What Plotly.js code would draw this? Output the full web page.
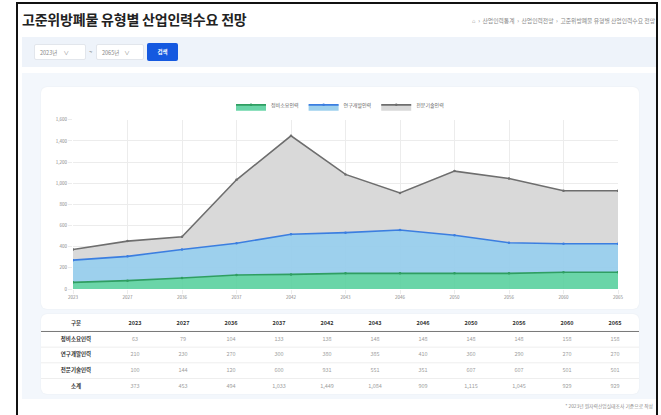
<!DOCTYPE html>
<html><head><meta charset="utf-8">
<script src="https://cdn.plot.ly/plotly-3.0.1.min.js"></script>
<style>
body{margin:0;width:661px;height:415px;background:#fff;overflow:hidden;font-family:"Noto Sans CJK KR","Noto Sans",sans-serif;position:relative}
.abs{position:absolute}
#frame{left:16px;top:2px;width:638px;height:420px;border:2px solid #111;border-bottom:none;box-sizing:content-box}
#title{left:22px;top:9px;font-size:14px;font-weight:700;color:#222;letter-spacing:-0.2px;white-space:nowrap}
#crumb{right:6px;top:16px;font-size:5.8px;color:#888;white-space:nowrap}
#filter{left:22px;top:37px;width:634px;height:30px;background:#eef3fa}
.sel{top:44px;height:16px;background:#fff;border:1px solid #e2e6ec;border-radius:2px;font-size:5.5px;color:#888;line-height:16px;box-sizing:border-box;padding-left:5px}
#btn{left:147px;top:43px;width:31px;height:18px;background:#1559e0;border-radius:2px;color:#fff;font-size:5.5px;font-weight:700;text-align:center;line-height:18px}
#lower{left:22px;top:73px;width:634px;height:326px;background:#f3f7fc}
.card{background:#fff;border-radius:6px;box-shadow:0 0 2px rgba(0,0,0,0.06)}
#foot{right:8px;top:402px;font-size:4.8px;color:#888;white-space:nowrap}
</style></head>
<body>
<div id="lower" class="abs"></div>
<div id="chartcard" class="abs card" style="left:41px;top:87px;width:598px;height:222px"></div>
<div id="tablecard" class="abs card" style="left:41px;top:314px;width:598px;height:80px"></div>
<div id="frame" class="abs"></div>
<div id="title" class="abs">고준위방폐물 유형별 산업인력수요 전망</div>
<div id="crumb" class="abs">⌂ &nbsp;›&nbsp; 산업인력통계 &nbsp;›&nbsp; 산업인력전망 &nbsp;›&nbsp; 고준위방폐물 유형별 산업인력수요 전망</div>
<div id="filter" class="abs"></div>
<div class="abs sel" style="left:34px;width:52px">2023년 &nbsp;&nbsp;&nbsp;&nbsp;∨</div>
<div class="abs" style="left:89px;top:47px;font-size:6px;color:#666">~</div>
<div class="abs sel" style="left:96px;width:48px">2065년 &nbsp;&nbsp;&nbsp;∨</div>
<div id="btn" class="abs">검색</div>
<div id="chart" class="abs" style="left:42px;top:87px;width:596px;height:222px"></div>
<div id="table" class="abs" style="left:41px;top:315px;width:598px;height:80px"></div>
<div id="foot" class="abs">* 2023년 원자력산업실태조사 기준으로 작성</div>
<script>
const years = ['2023','2027','2036','2037','2042','2043','2046','2050','2056','2060','2065'];
const seriesNames = ['정비소요인력','연구개발인력','전문기술인력'];
const maintenance = [63,79,104,133,138,148,148,148,148,158,158];
const research = [210,230,270,300,380,385,410,360,290,270,270];
const technical = [100,144,120,600,931,551,351,607,607,501,501];
const totals = [373,453,494,1033,1449,1084,909,1115,1045,929,929];
const totalLabel = '소계';
const headerLabel = '구분';

const font = '"Noto Sans CJK KR","Noto Sans",sans-serif';
const styles = [
  {line:'#2f9e62', fill:'rgba(90,208,158,0.9)'},
  {line:'#3b7ee0', fill:'rgba(152,206,236,0.95)'},
  {line:'#6e6e6e', fill:'rgba(217,217,217,1)'}
];
const vals = [maintenance, research, technical];
const traces = vals.map((v,i)=>({
  type:'scatter', mode:'lines+markers', x:years, y:v, name:seriesNames[i],
  stackgroup:'one', fillcolor:styles[i].fill,
  line:{color:styles[i].line, width:1.6},
  marker:{color:styles[i].line, size:2.5}
}));
Plotly.newPlot('chart', traces, {
  width:596, height:222,
  margin:{l:31,r:20,t:19.5,b:20},
  paper_bgcolor:'rgba(0,0,0,0)', plot_bgcolor:'rgba(0,0,0,0)',
  font:{family:font, size:5, color:'#777'},
  showlegend:true,
  legend:{orientation:'h', traceorder:'normal', xref:'container', yref:'container', x:0.5, xanchor:'center', y:0.985, yanchor:'top',
    font:{size:5, color:'#666'}, itemwidth:30, tracegroupgap:0, bgcolor:'rgba(0,0,0,0)'},
  xaxis:{type:'category', range:[0,10], showgrid:true, gridcolor:'#ececec', gridwidth:1,
    ticks:'outside', ticklen:4, tickcolor:'#ececec', zeroline:false, showline:false,
    tickfont:{size:4.5, color:'#888'}, fixedrange:true},
  yaxis:{range:[0,1600], dtick:200, tickformat:',', showgrid:true, gridcolor:'#ececec', gridwidth:1,
    ticks:'outside', ticklen:4, tickcolor:'#ececec', zeroline:false, showline:false,
    tickfont:{size:4.5, color:'#888'}, fixedrange:true}
}, {displayModeBar:false, staticPlot:true});

// Table drawn as text marks on category axes
const fmt = n => n.toLocaleString('en-US');
const rowKeys = [headerLabel].concat(seriesNames, [totalLabel]);
const rowData = [maintenance, research, technical, totals];
const tTraces = [];
tTraces.push({type:'scatter', mode:'text', xaxis:'x2', yaxis:'y',
  x:rowKeys.map(()=>headerLabel), y:rowKeys, text:rowKeys.map(s=>'<b>'+s+'</b>'),
  textfont:{family:font, size:5.5, color:'#333'}, hoverinfo:'skip'});
tTraces.push({type:'scatter', mode:'text', xaxis:'x', yaxis:'y',
  x:years, y:years.map(()=>headerLabel), text:years.map(s=>'<b>'+s+'</b>'),
  textfont:{family:font, size:5.5, color:'#333'}, hoverinfo:'skip'});
rowData.forEach((arr,r)=>{
  tTraces.push({type:'scatter', mode:'text', xaxis:'x', yaxis:'y',
    x:years, y:years.map(()=>rowKeys[r+1]), text:arr.map(fmt),
    textfont:{family:font, size:5.5, color:'#a0a0a0'}, hoverinfo:'skip'});
});
const sep = (y,c)=>({type:'line', xref:'paper', yref:'y', x0:0, x1:1, y0:y, y1:y, line:{color:c, width:1}});
Plotly.newPlot('table', tTraces, {
  width:598, height:80, margin:{l:0,r:0,t:0,b:0}, showlegend:false,
  paper_bgcolor:'rgba(0,0,0,0)', plot_bgcolor:'rgba(0,0,0,0)',
  xaxis:{type:'category', categoryarray:years, domain:[70/598,1], range:[-0.5,10.5],
    visible:false, fixedrange:true},
  xaxis2:{type:'category', categoryarray:[headerLabel], domain:[0,70/598], range:[-0.5,0.5],
    visible:false, fixedrange:true, anchor:'y'},
  yaxis:{type:'category', categoryarray:rowKeys, range:[4.55,-0.55], visible:false, fixedrange:true},
  shapes:[sep(0.5,'#777'), sep(1.5,'#eee'), sep(2.5,'#eee'), sep(3.5,'#eee')]
}, {displayModeBar:false, staticPlot:true});
</script>
</body></html>
